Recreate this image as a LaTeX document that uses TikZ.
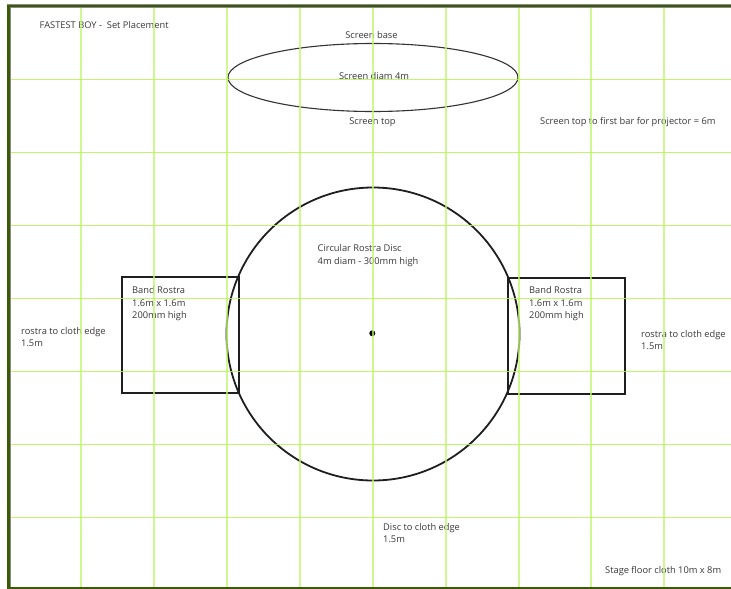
\documentclass[tikz,border=0pt]{standalone}
\usepackage{fontspec}
\setmainfont{Open Sans}
\definecolor{gridh}{HTML}{B6F650}
\definecolor{gridv}{HTML}{BFF86C}
\definecolor{borderdark}{HTML}{3A5A08}
\definecolor{bordergray}{HTML}{8A8A8A}
\tikzset{
  x=1pt,y=-1pt,
  gridlineh/.style={fill=gridh,opacity=.85},
  gridlinev/.style={draw=gridv,line width=1.3pt,opacity=.75},
  shapeline/.style={draw=black!88,line width=1.8pt},
  lbl/.style={anchor=north west,inner sep=0pt,align=left,text=black!78,font=\fontsize{9.3}{12.6}\selectfont},
  clbl/.style={anchor=center,inner sep=0pt,text=black!78,font=\fontsize{9.3}{12.6}\selectfont},
}
\begin{document}
\begin{tikzpicture}
\useasboundingbox (0,0) rectangle (731,589);
\fill[white] (0,0) rectangle (731,589);
% shapes
\draw[draw=black!80,line width=1.1pt] (373,77.5) ellipse [x radius=145,y radius=34];
\draw[shapeline] (373,334) circle [radius=146.5];
\node[shapeline,rectangle,minimum width=117,minimum height=116,inner sep=0pt] (left) at (180.5,335) {};
\node[shapeline,rectangle,minimum width=117,minimum height=116,inner sep=0pt] (right) at (566.5,336) {};
\fill[black] (372.3,333.3) circle [radius=3];
% texts
\node[lbl] (title) at (39.5,21.5) {FASTEST BOY -\ \ Set Placement};
\node[clbl] (sbase) at (371.5,35) {Screen base};
\node[clbl] (sdiam) at (374,76.5) {Screen diam 4m};
\node[clbl] (stop) at (372.5,122) {Screen top};
\node[lbl] (proj) at (540,117) {Screen top to first bar for projector = 6m};
\node[lbl] (disc) at (317.5,244.5) {Circular Rostra Disc\\4m diam - 300mm high};
\node[lbl] (bl) at (132,286.5) {Band Rostra\\1.6m x 1.6m\\200mm high};
\node[lbl] (br) at (529,286.5) {Band Rostra\\1.6m x 1.6m\\200mm high};
\node[lbl] (el) at (21,327) {rostra to cloth edge\\1.5m};
\node[lbl] (er) at (641,330) {rostra to cloth edge\\1.5m};
\node[lbl] (de) at (383,523) {Disc to cloth edge\\1.5m};
\node[lbl] (cloth) at (605,566) {Stage floor cloth 10m x 8m};
% grid on top
\foreach \gx in {81,154,227,300,373,446,519,591,664} \draw[gridlinev] (\gx,7) -- (\gx,587);
\foreach \gy in {79,152,225,298,371,444,517} \fill[gridlineh] (8,\gy) rectangle (731,\gy+1.3);
% border
\draw[draw=bordergray,line width=4pt] (6.5,6) -- (731,6);
\draw[draw=bordergray,line width=1pt] (10.5,6) -- (10.5,587) (10,587) -- (731,587);
\draw[draw=borderdark,line width=1.6pt] (6.5,6) -- (731,6) (6.5,588.2) -- (731,588.2);
\draw[draw=borderdark,line width=3pt] (8,4.5) -- (8,589);
\end{tikzpicture}
\end{document}
